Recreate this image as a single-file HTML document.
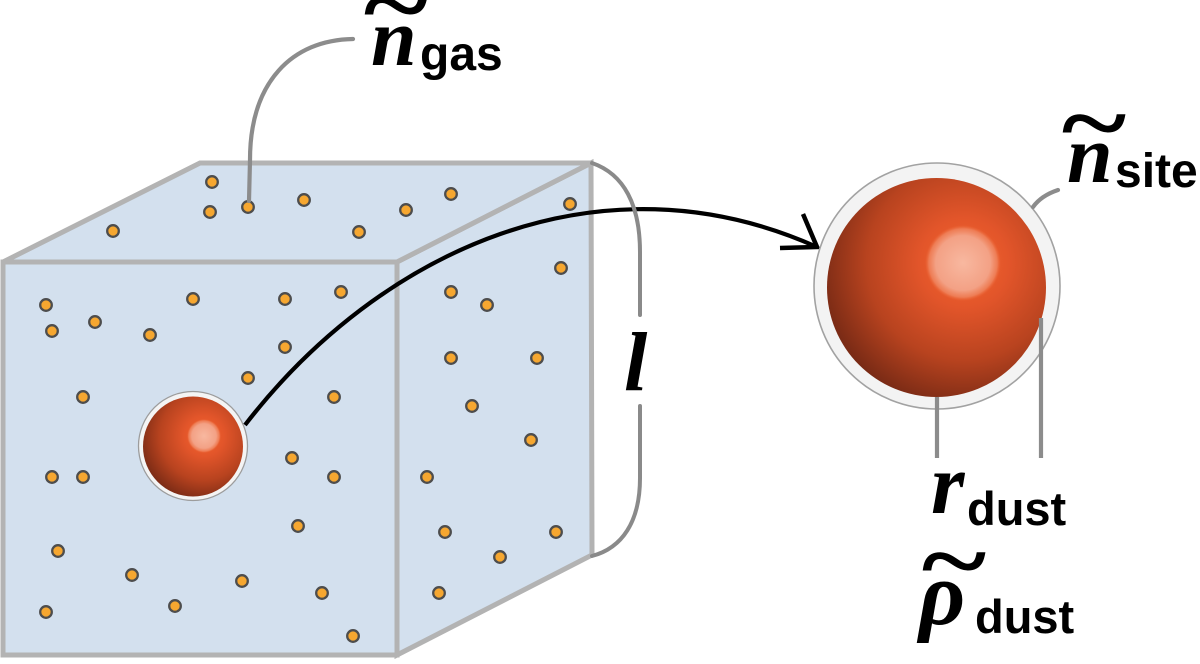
<!DOCTYPE html>
<html><head><meta charset="utf-8"><style>
html,body{margin:0;padding:0;background:#fff;}
svg{display:block;}
.it{font-family:"Liberation Serif",serif;font-style:italic;font-weight:bold;fill:#000;}
.tl{font-family:"Liberation Serif",serif;font-weight:bold;fill:#000;}
.sb{font-family:"Liberation Sans",sans-serif;font-weight:bold;fill:#000;}
</style></head><body>
<svg width="1200" height="664" viewBox="0 0 1200 664" xmlns="http://www.w3.org/2000/svg">
<defs>
<radialGradient id="gBig" gradientUnits="userSpaceOnUse" cx="964" cy="263" r="150" fx="964" fy="263">
<stop offset="0" stop-color="#f5652f"/>
<stop offset="0.3" stop-color="#e2552a"/>
<stop offset="0.65" stop-color="#b8431f"/>
<stop offset="1" stop-color="#732814"/>
</radialGradient>
<radialGradient id="hBig" gradientUnits="userSpaceOnUse" cx="963" cy="263" r="38">
<stop offset="0" stop-color="#f8b8a0"/>
<stop offset="0.72" stop-color="#f3a185"/>
<stop offset="0.9" stop-color="#f08660" stop-opacity="0.8"/>
<stop offset="1" stop-color="#ee6a3a" stop-opacity="0"/>
</radialGradient>
<radialGradient id="gSm" gradientUnits="userSpaceOnUse" cx="204" cy="436" r="68" fx="204" fy="436">
<stop offset="0" stop-color="#f5652f"/>
<stop offset="0.3" stop-color="#e2552a"/>
<stop offset="0.65" stop-color="#b8431f"/>
<stop offset="1" stop-color="#732814"/>
</radialGradient>
<radialGradient id="hSm" gradientUnits="userSpaceOnUse" cx="204" cy="436" r="17">
<stop offset="0" stop-color="#f8b8a0"/>
<stop offset="0.72" stop-color="#f3a185"/>
<stop offset="0.9" stop-color="#f08660" stop-opacity="0.8"/>
<stop offset="1" stop-color="#ee6a3a" stop-opacity="0"/>
</radialGradient>
</defs>

<!-- cube -->
<g fill="#d3e0ee" stroke="#b3b3b3" stroke-width="5" stroke-linejoin="miter">
<polygon points="397,262 591,163 592,555 397,655"/>
<polygon points="3,262 200,163 591,163 397,262"/>
<rect x="3" y="262" width="394" height="393"/>
</g>

<!-- dots -->
<g fill="#f6a730" stroke="#4d4d4d" stroke-width="2.3">
<circle cx="212" cy="182" r="5.8"/><circle cx="210" cy="212" r="5.8"/><circle cx="248" cy="207" r="5.8"/>
<circle cx="304" cy="200" r="5.8"/><circle cx="451" cy="194" r="5.8"/><circle cx="406" cy="210" r="5.8"/>
<circle cx="359" cy="232" r="5.8"/><circle cx="113" cy="231" r="5.8"/><circle cx="570" cy="204" r="5.8"/>
<circle cx="46" cy="305" r="5.8"/><circle cx="52" cy="331" r="5.8"/><circle cx="95" cy="322" r="5.8"/>
<circle cx="150" cy="335" r="5.8"/><circle cx="193" cy="299" r="5.8"/><circle cx="285" cy="299" r="5.8"/>
<circle cx="341" cy="292" r="5.8"/><circle cx="285" cy="347" r="5.8"/><circle cx="248" cy="378" r="5.8"/>
<circle cx="83" cy="397" r="5.8"/><circle cx="334" cy="397" r="5.8"/><circle cx="292" cy="458" r="5.8"/>
<circle cx="52" cy="477" r="5.8"/><circle cx="83" cy="477" r="5.8"/><circle cx="334" cy="477" r="5.8"/>
<circle cx="298" cy="526" r="5.8"/><circle cx="58" cy="551" r="5.8"/><circle cx="132" cy="575" r="5.8"/>
<circle cx="242" cy="581" r="5.8"/><circle cx="322" cy="593" r="5.8"/><circle cx="46" cy="612" r="5.8"/>
<circle cx="175" cy="606" r="5.8"/><circle cx="353" cy="636" r="5.8"/>
<circle cx="451" cy="292" r="5.8"/><circle cx="487" cy="305" r="5.8"/><circle cx="561" cy="268" r="5.8"/>
<circle cx="451" cy="358" r="5.8"/><circle cx="537" cy="358" r="5.8"/><circle cx="472" cy="406" r="5.8"/>
<circle cx="531" cy="440" r="5.8"/><circle cx="427" cy="477" r="5.8"/><circle cx="445" cy="532" r="5.8"/>
<circle cx="556" cy="532" r="5.8"/><circle cx="500" cy="557" r="5.8"/><circle cx="439" cy="593" r="5.8"/>
</g>

<!-- small sphere -->
<circle cx="193" cy="446" r="54.5" fill="#f4f4f4" stroke="#9c9c9c" stroke-width="1.3"/>
<circle cx="193" cy="446.5" r="50" fill="url(#gSm)"/>
<circle cx="204" cy="436" r="17" fill="url(#hSm)"/>

<!-- connector -->
<path d="M245,425 C380,250 600,150 817,247" fill="none" stroke="#000" stroke-width="4.2"/>
<path d="M803,214 L817,247 L780,248" fill="none" stroke="#000" stroke-width="4.5" stroke-linejoin="miter"/>

<!-- l bracket -->
<g fill="none" stroke="#8a8a8a" stroke-width="4" stroke-linecap="round">
<path d="M592,163 C624,174 640,205 640,252 L640,315"/>
<path d="M640,406 L640,478 C640,522 622,548 592,556"/>
</g>
<text class="it" x="624" y="390" font-size="84">l</text>

<!-- big sphere -->
<circle cx="937" cy="286" r="123" fill="#f3f3f3" stroke="#a2a2a2" stroke-width="1.6"/>
<circle cx="936.5" cy="287.5" r="109.5" fill="url(#gBig)"/>
<circle cx="963" cy="263" r="38" fill="url(#hBig)"/>

<!-- leaders -->
<g fill="none" stroke="#8c8c8c" stroke-width="4.2" stroke-linecap="round">
<path d="M353,39 C292,40 250,82 250,160 L249,201"/>
<path d="M1058,190 C1046,194 1038,200 1033,207"/>
<line x1="937" y1="397" x2="937" y2="458" stroke-linecap="butt"/>
<line x1="1041" y1="318" x2="1041" y2="458" stroke-linecap="butt"/>
</g>

<!-- labels -->
<text class="it" x="371" y="65" font-size="82">n</text>
<text class="tl" x="0" y="0" font-size="80" text-anchor="middle" transform="translate(396,37) scale(1.55,1.2)">~</text>
<text class="sb" x="420" y="70" font-size="48">gas</text>

<text class="it" x="1067" y="182" font-size="82">n</text>
<text class="tl" x="0" y="0" font-size="80" text-anchor="middle" transform="translate(1094,155) scale(1.55,1.2)">~</text>
<text class="sb" x="1115" y="187" font-size="48">site</text>

<text class="it" x="931" y="513" font-size="86">r</text>
<text class="sb" x="967" y="525" font-size="47">dust</text>

<text class="it" x="919" y="624" font-size="90">ρ</text>
<text class="tl" x="0" y="0" font-size="80" text-anchor="middle" transform="translate(954,593) scale(1.55,1.2)">~</text>
<text class="sb" x="975" y="633" font-size="47">dust</text>
</svg>
</body></html>
